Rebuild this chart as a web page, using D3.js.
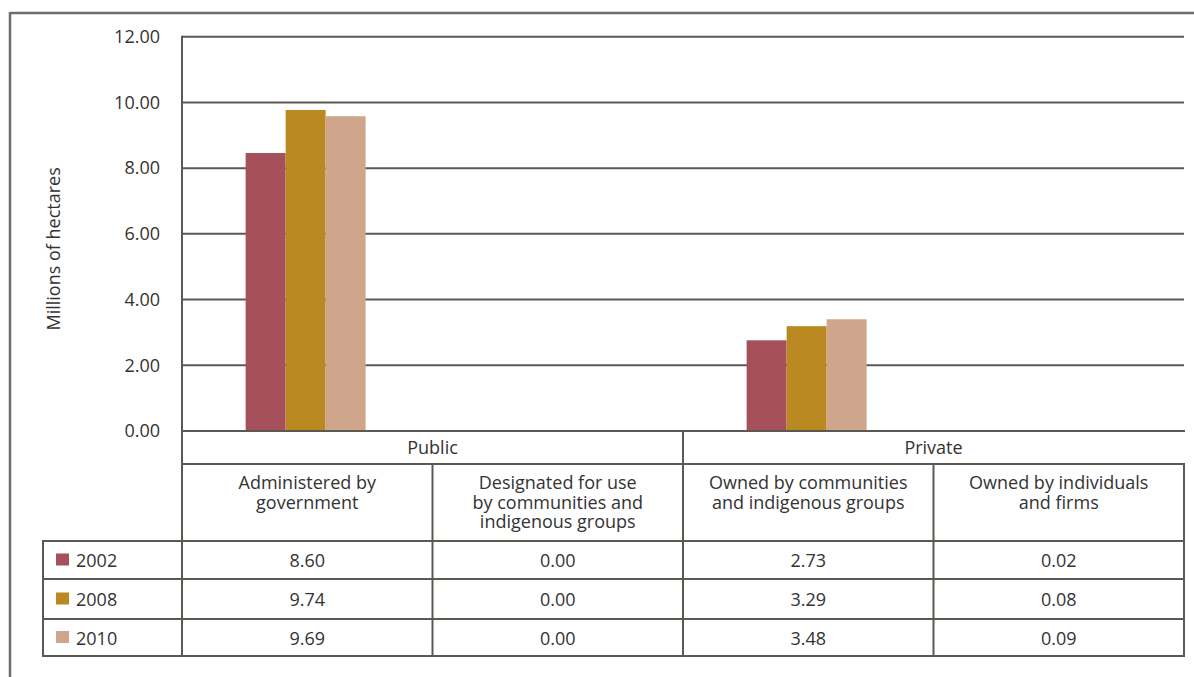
<!DOCTYPE html>
<html><head><meta charset="utf-8">
<script src="https://cdn.jsdelivr.net/npm/d3@7"></script>
<style>
html,body{margin:0;padding:0;background:#fff;}
svg{display:block;}
text{font-family:"Open Sans",sans-serif;fill:#333333;}
</style></head>
<body>
<svg id="chart" width="1194" height="677"></svg>
<script>
// ---- data ----
const groups = ["Public", "Private"];
const categories = ["Administered by government", "Designated for use by communities and indigenous groups",
  "Owned by communities and indigenous groups", "Owned by individuals and firms"];
const categoryLines = [["Administered by","government"],["Designated for use","by communities and","indigenous groups"],
  ["Owned by communities","and indigenous groups"],["Owned by individuals","and firms"]];
const categoryGroup = ["Public","Public","Private","Private"];
const years = ["2002","2008","2010"];
// bar heights as drawn in the picture (millions of hectares)
const bars2002 = [8.46, 0, 2.76, 0];
const bars2008 = [9.77, 0, 3.19, 0];
const bars2010 = [9.58, 0, 3.40, 0];
// values printed in the data table
const table2002 = ["8.60","0.00","2.73","0.02"];
const table2008 = ["9.74","0.00","3.29","0.08"];
const table2010 = ["9.69","0.00","3.48","0.09"];
const yTicks = [0,2,4,6,8,10,12];
const colors = ["#a6505b","#ba8922","#cfa68b"];
const yTitle = "Millions of hectares";

const barSeries = [bars2002, bars2008, bars2010];
const tableSeries = [table2002, table2008, table2010];

const svg = d3.select("#chart");
const lineCol = "#5a5952";
const FS = "18px";
const L = 182, R = 1184, T = 36.7, B = 431;
const x = d3.scaleBand().domain(categories).range([L, R]);
const bw = x.bandwidth();
const x1 = d3.scaleBand().domain(years).range([0.254*bw, 0.733*bw]);
const y = d3.scaleLinear().domain([0,12]).range([B, T]);

// outer frame
svg.append("line").attr("x1",10).attr("x2",1194).attr("y1",13).attr("y2",13).attr("stroke","#6e6e6a").attr("stroke-width",2.5);
svg.append("line").attr("x1",10).attr("x2",10).attr("y1",12).attr("y2",677).attr("stroke","#6e6e6a").attr("stroke-width",2.5);

// gridlines
svg.append("g").selectAll("line").data(yTicks.filter(d=>d>0)).join("line")
  .attr("x1",L).attr("x2",R).attr("y1",d=>y(d)).attr("y2",d=>y(d))
  .attr("stroke",lineCol).attr("stroke-width",2);

// y axis
const yAxis = d3.axisLeft(y).tickValues(yTicks).tickFormat(d3.format(".2f")).tickSize(0).tickPadding(22);
const gy = svg.append("g").attr("transform",`translate(${L},0)`).call(yAxis);
gy.select(".domain").remove();
gy.selectAll("text").style("font-family","'Open Sans',sans-serif").style("font-size",FS).attr("fill","#333333");

svg.append("text").attr("transform",`translate(53,${(T+B)/2+15}) rotate(-90)`)
  .attr("text-anchor","middle").attr("dominant-baseline","central").style("font-size",FS).text(yTitle);

// bars
years.forEach((yr,i)=>{
  svg.append("g").selectAll("rect").data(categories.map((c,j)=>({c, v: barSeries[i][j]}))).join("rect")
    .attr("x",d=>x(d.c)+x1(yr)).attr("width",x1.bandwidth())
    .attr("y",d=>y(d.v)).attr("height",d=>B-y(d.v)).attr("fill",colors[i]);
});

// ---- table ----
const rowLines = [541, 579, 619, 656];
const legL = 43;
const tg = svg.append("g").attr("stroke",lineCol).attr("stroke-width",2);
function hl(x1_,x2_,yy){tg.append("line").attr("x1",x1_).attr("x2",x2_).attr("y1",yy).attr("y2",yy);}
function vl(xx,y1_,y2_){tg.append("line").attr("x1",xx).attr("x2",xx).attr("y1",y1_).attr("y2",y2_);}
hl(L-1,R+1,B);
hl(L-1,R+1,464);
rowLines.forEach(r=>hl(legL-1,R+1,r));
vl(L,T-1,656);
vl(x(categories[1]),464,656);
vl(x(categories[2]),B,656);
vl(x(categories[3]),464,656);
vl(R,464,657);
vl(legL,540,657);

// group headers
groups.forEach(g=>{
  const cols = categories.filter((c,j)=>categoryGroup[j]===g);
  const x0 = x(cols[0]), xe = x(cols[cols.length-1]) + bw;
  svg.append("text").attr("x",(x0+xe)/2).attr("y",447).attr("text-anchor","middle")
    .attr("dominant-baseline","central").style("font-size",FS).text(g);
});
// category headers
categories.forEach((c,j)=>{
  const t = svg.append("text").attr("text-anchor","middle").style("font-size",FS);
  categoryLines[j].forEach((ln,k)=>{
    t.append("tspan").attr("x",x(c)+bw/2).attr("y",482+k*19.6).attr("dominant-baseline","central").text(ln);
  });
});
// data rows
years.forEach((yr,i)=>{
  const cy = (rowLines[i]+rowLines[i+1])/2;
  svg.append("rect").attr("x",56).attr("y",cy-6.5).attr("width",13).attr("height",12).attr("fill",colors[i]);
  svg.append("text").attr("x",76).attr("y",cy).attr("dominant-baseline","central").style("font-size",FS).text(yr);
  categories.forEach((c,j)=>{
    svg.append("text").attr("x",x(c)+bw/2).attr("y",cy).attr("text-anchor","middle")
      .attr("dominant-baseline","central").style("font-size",FS).text(tableSeries[i][j]);
  });
});
</script>
</body></html>
